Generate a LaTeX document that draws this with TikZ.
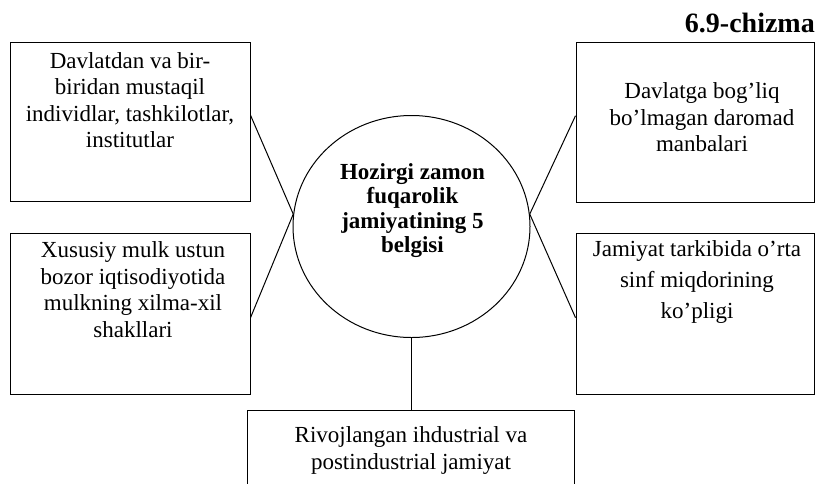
\documentclass[tikz,border=0pt]{standalone}
\usepackage{fontspec}
\setmainfont{Liberation Serif}
\usetikzlibrary{shapes.geometric}

\tikzset{
  quti/.style={draw, line width=1pt, inner sep=0pt},
  matn/.style={align=center, anchor=north, inner sep=0pt, font=\fontsize{23}{26.5}\selectfont},
  chiziq/.style={line width=1pt},
}

\begin{document}
\begin{tikzpicture}[x=1pt,y=-1pt]
\useasboundingbox (0,0) rectangle (816,483);
\clip (0,0) rectangle (816,483);

% sarlavha
\node[anchor=base east, inner sep=0pt, font=\fontsize{28}{30}\selectfont\bfseries] (sarlavha) at (815,32) {6.9-chizma};

% markaz
\node[ellipse, draw, line width=1pt, minimum width=237, minimum height=222, inner sep=0pt] (markaz) at (411.5,226.5) {};
\node[matn, font=\fontsize{23}{24.5}\selectfont\bfseries] (markaz-t) at (412.5,163) {Hozirgi zamon\\fuqarolik\\jamiyatining 5\\belgisi};

% qutilar
\node[quti, minimum width=240, minimum height=159] (chapyuqori) at (130,121.5) {};
\node[matn] (chapyuqori-t) at (130,52) {Davlatdan va bir-\\biridan mustaqil\\individlar, tashkilotlar,\\institutlar};

\node[quti, minimum width=238, minimum height=160] (ongyuqori) at (695,122) {};
\node[matn] (ongyuqori-t) at (702,82.5) {Davlatga bog’liq\\bo’lmagan daromad\\manbalari};

\node[quti, minimum width=240, minimum height=161] (chappast) at (130,313.5) {};
\node[matn] (chappast-t) at (133,241.5) {Xususiy mulk ustun\\bozor iqtisodiyotida\\mulkning xilma-xil\\shakllari};

\node[quti, minimum width=238, minimum height=161] (ongpast) at (695,313.5) {};
\node[matn, font=\fontsize{23}{31}\selectfont] (ongpast-t) at (697,240.5) {Jamiyat tarkibida o’rta\\sinf miqdorining\\ko’pligi};

\node[quti, minimum width=327, minimum height=80] (past) at (410.5,450) {};
\node[matn] (past-t) at (411,426.5) {Rivojlangan ihdustrial va\\postindustrial jamiyat};

% chiziqlar
\draw[chiziq] (chapyuqori.3) -- (markaz.174);
\draw[chiziq] (chappast.-2) -- (markaz.174);
\draw[chiziq] (ongyuqori.177) -- (markaz.6);
\draw[chiziq] (ongpast.182) -- (markaz.6);
\draw[chiziq] (markaz.south) -- (markaz.south |- past.north);
\end{tikzpicture}
\end{document}
